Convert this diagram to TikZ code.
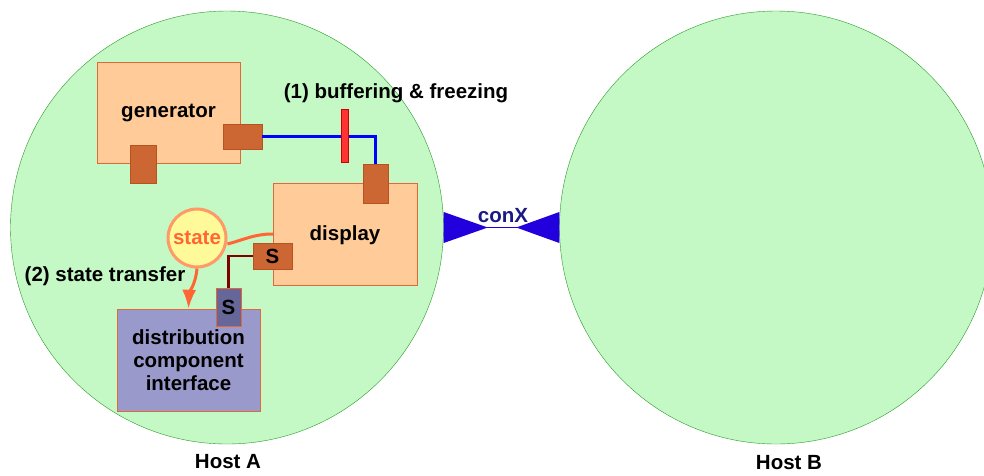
\documentclass[tikz,border=0pt]{standalone}
\usepackage{fontspec}
\setmainfont{Liberation Sans}
\usetikzlibrary{arrows.meta}
\definecolor{hostfill}{HTML}{C4F8C4}
\definecolor{hostline}{HTML}{2A9A2A}
\definecolor{boxfill}{HTML}{FFCC99}
\definecolor{boxline}{HTML}{E2673A}
\definecolor{portfill}{HTML}{CC6633}
\definecolor{portline}{HTML}{B8521F}
\definecolor{distfill}{HTML}{9999CC}
\definecolor{distport}{HTML}{666699}
\definecolor{stateline}{HTML}{FF9966}
\definecolor{statetext}{HTML}{FF6633}
\definecolor{conxblue}{HTML}{2200DD}
\definecolor{conxtext}{HTML}{1A1A80}
\begin{document}
\begin{tikzpicture}[x=1pt,y=-1pt,
    every node/.style={font=\fontsize{20.5}{23}\selectfont\bfseries},
    host/.style={circle,draw=hostline,fill=hostfill,minimum size=433pt,inner sep=0pt},
    comp/.style={draw=boxline,fill=boxfill,inner sep=0pt},
    port/.style={draw=portline,fill=portfill,inner sep=0pt}]
        \useasboundingbox (0,0) rectangle (984,475);

        % hosts
        \node[host] (hostA) at (227,227.5) {};
        \node[host] (hostB) at (776,227.5) {};
        \node (labA) at (228,462) {Host A};
        \node (labB) at (789,463) {Host B};

        % conX
        \fill[conxblue] (hostA.east) ++(0,-15.5) -- ++(44,15.5) -- ++(-44,15.5) -- cycle;
        \fill[conxblue] (hostB.west) ++(0,-15.5) -- ++(-43,15.5) -- ++(43,15.5) -- cycle;
        \draw[conxblue, line width=1.5pt] (hostA.east) -- (hostB.west);
        \node[text=conxtext] (conx) at (503,216) {conX};

        % components
        \node[comp, minimum width=143pt, minimum height=101pt] (gen) at (168.5,112.5) {generator};
        \node[port, minimum width=26pt, minimum height=38pt] (genbot) at (143,164) {};
        \node[port, minimum width=39pt, minimum height=25pt] (genout) at (242.5,136.5) {};

        \node[comp, minimum width=144pt, minimum height=102pt] (disp) at (345,234) {};
        \node (disptext) at (345,235) {display};
        \node[port, minimum width=25pt, minimum height=39pt] (dispin) at (375.5,183.5) {};
        \node[port, minimum width=39pt, minimum height=26pt] (dispS) at (272.5,256) {S};

        \node[draw=boxline, fill=distfill, minimum width=143pt, minimum height=102pt, inner sep=0pt] (dist) at (188.5,360) {};
        \node[align=center] (disttext) at (188.5,360) {distribution\\component\\interface};
        \node[draw=boxline, fill=distport, minimum width=25pt, minimum height=38pt, inner sep=0pt] (distS) at (228.5,307) {S};

        % (1) buffering
        \draw[blue, line width=2.5pt] (genout.east) -| (dispin.north);
        \node[draw=red!80!black, fill=red!80!white, minimum width=7pt, minimum height=53pt, inner sep=0pt] (freeze) at (344.5,135.5) {};
        \node (lab1) at (396,93) {(1) buffering \& freezing};

        % (2) state transfer
        \draw[red!50!black, line width=2.5pt] (dispS.west) -| (distS.north);
        \node[circle, draw=stateline, fill=yellow!40!white, line width=3pt, minimum size=58pt, inner sep=0pt, text=statetext] (state) at (197,238) {state};
        \draw[statetext, line width=3pt] (disp.west) to[out=180,in=15] (state.east |- 0,244);
        \draw[statetext, line width=3pt, -{Latex[length=19pt,width=14pt]}] (state.south) to[out=-95,in=88] (dist.north);
        \node (lab2) at (105,276) {(2) state transfer};
\end{tikzpicture}
\end{document}
